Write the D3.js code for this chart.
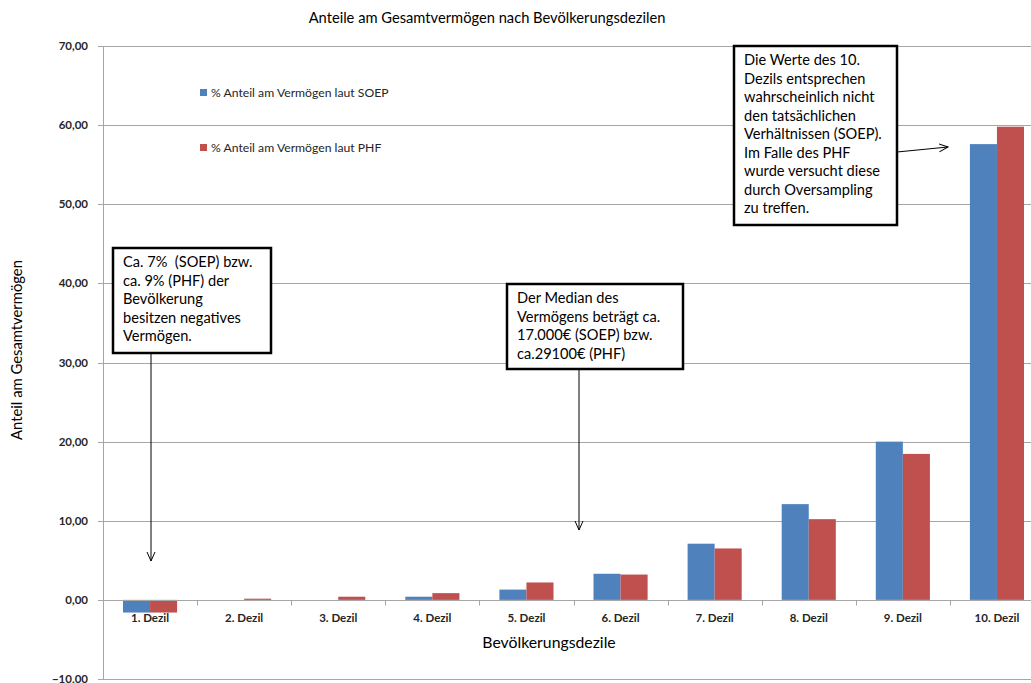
<!DOCTYPE html>
<html>
<head>
<meta charset="utf-8">
<script src="https://cdn.jsdelivr.net/npm/d3@7"></script>
<style>
  body { margin: 0; background: #fff; }
  svg { display: block; font-family: Lato, "Open Sans", sans-serif; }
</style>
</head>
<body>
<div id="chart"></div>
<script>
var w = 1031,
	h = 683;

// data
var categories = ["1. Dezil", "2. Dezil", "3. Dezil", "4. Dezil", "5. Dezil",
	"6. Dezil", "7. Dezil", "8. Dezil", "9. Dezil", "10. Dezil"];
var soep = [-1.6, 0.0, 0.0, 0.4, 1.3, 3.3, 7.1, 12.1, 20.0, 57.6];
var phf = [-1.6, 0.15, 0.4, 0.85, 2.2, 3.2, 6.5, 10.2, 18.45, 59.8];
var seriesNames = ["% Anteil am Vermögen laut SOEP", "% Anteil am Vermögen laut PHF"];
var yTicks = [-10, 0, 10, 20, 30, 40, 50, 60, 70];

var colorscale = d3.scaleOrdinal().range(["#4F81BD", "#C0504D"]);

var svg = d3.select("#chart").append("svg")
	.attr("width", w)
	.attr("height", h);

var x0 = d3.scaleBand().domain(categories).range([103, 1044])
	.paddingInner(0.425).paddingOuter(0.2125);
var step = x0.step();
var x1 = d3.scaleBand().domain([0, 1]).range([0, x0.bandwidth()]);
var y = d3.scaleLinear().domain([-10, 70]).range([679, 46]);

// gridlines
svg.append("g").selectAll("line")
	.data(yTicks)
	.enter().append("line")
	.attr("x1", 98).attr("x2", 1044)
	.attr("y1", function(d) { return Math.round(y(d)) + 0.5; })
	.attr("y2", function(d) { return Math.round(y(d)) + 0.5; })
	.attr("stroke", "#a6a6a6")
	.attr("stroke-width", 1);

// y axis line
svg.append("line")
	.attr("x1", 103.5).attr("x2", 103.5)
	.attr("y1", y(70)).attr("y2", y(-10))
	.attr("stroke", "#a6a6a6");

// y labels
svg.append("g").selectAll("text")
	.data(yTicks)
	.enter().append("text")
	.attr("x", 88)
	.attr("y", function(d) { return y(d) + 4; })
	.attr("text-anchor", "end")
	.attr("font-size", "11.5px")
	.attr("font-weight", "bold")
	.attr("fill", "#262626")
	.text(function(d) { return d3.format(".2f")(d).replace(".", ","); });

// bars
var rows = categories.map(function(c, i) { return {cat: c, vals: [soep[i], phf[i]]}; });
var groups = svg.append("g").selectAll("g")
	.data(rows)
	.enter().append("g")
	.attr("transform", function(d) { return "translate(" + x0(d.cat) + ",0)"; });
groups.selectAll("rect")
	.data(function(d) { return d.vals; })
	.enter().append("rect")
	.attr("x", function(d, i) { return x1(i); })
	.attr("y", function(d) { return y(Math.max(0, d)); })
	.attr("width", x1.bandwidth())
	.attr("height", function(d) { return Math.abs(y(d) - y(0)); })
	.attr("fill", function(d, i) { return colorscale(i); });

// x axis line + ticks
var zeroY = Math.round(y(0)) + 0.5;
svg.append("line")
	.attr("x1", 103).attr("x2", 1044)
	.attr("y1", zeroY).attr("y2", zeroY)
	.attr("stroke", "#a6a6a6");
svg.append("g").selectAll("line")
	.data(d3.range(1, categories.length))
	.enter().append("line")
	.attr("x1", function(i) { return Math.round(103 + i * step) + 0.5; })
	.attr("x2", function(i) { return Math.round(103 + i * step) + 0.5; })
	.attr("y1", zeroY).attr("y2", zeroY + 5)
	.attr("stroke", "#a6a6a6");

// x labels
svg.append("g").selectAll("text")
	.data(categories)
	.enter().append("text")
	.attr("x", function(d) { return x0(d) + x0.bandwidth() / 2; })
	.attr("y", 622)
	.attr("text-anchor", "middle")
	.attr("font-size", "11.5px")
	.attr("font-weight", "bold")
	.attr("fill", "#262626")
	.text(function(d) { return d; });

// titles
svg.append("text")
	.attr("x", 487).attr("y", 23)
	.attr("text-anchor", "middle")
	.attr("font-size", "14.7px")
	.attr("fill", "#000")
	.text("Anteile am Gesamtvermögen nach Bevölkerungsdezilen");

svg.append("text")
	.attr("x", 549).attr("y", 648)
	.attr("text-anchor", "middle")
	.attr("font-size", "15.8px")
	.attr("fill", "#000")
	.text("Bevölkerungsdezile");

svg.append("text")
	.attr("transform", "translate(22,350) rotate(-90)")
	.attr("text-anchor", "middle")
	.attr("font-size", "14.8px")
	.attr("fill", "#000")
	.text("Anteil am Gesamtvermögen");

// legend
var legend = svg.append("g").attr("class", "legend");
legend.selectAll("rect")
	.data(seriesNames)
	.enter().append("rect")
	.attr("x", 200)
	.attr("y", function(d, i) { return 89 + i * 55; })
	.attr("width", 7).attr("height", 7)
	.style("fill", function(d, i) { return colorscale(i); });
legend.selectAll("text")
	.data(seriesNames)
	.enter().append("text")
	.attr("x", 211)
	.attr("y", function(d, i) { return 97 + i * 55; })
	.attr("font-size", "12.2px")
	.attr("fill", "#262626")
	.text(function(d) { return d; });

// annotations
var defs = svg.append("defs");
defs.append("marker")
	.attr("id", "arrow")
	.attr("viewBox", "0 0 10 10")
	.attr("refX", 9).attr("refY", 5)
	.attr("markerWidth", 10).attr("markerHeight", 10)
	.attr("markerUnits", "userSpaceOnUse")
	.attr("orient", "auto")
	.append("path")
	.attr("d", "M0,1 L9,5 L0,9")
	.attr("fill", "none")
	.attr("stroke", "#000")
	.attr("stroke-width", 1);

var notes = [
	{x: 113, y: 248, w: 158, h: 105, lines: ["Ca. 7%  (SOEP) bzw.", "ca. 9% (PHF) der", "Bevölkerung", "besitzen negatives", "Vermögen."],
	 ax1: 151, ay1: 353, ax2: 151, ay2: 561},
	{x: 507, y: 284, w: 176, h: 85, lines: ["Der Median des", "Vermögens beträgt ca.", "17.000€ (SOEP) bzw.", "ca.29100€ (PHF)"],
	 ax1: 579, ay1: 369, ax2: 579, ay2: 530},
	{x: 734, y: 46, w: 163, h: 179, lines: ["Die Werte des 10.", "Dezils entsprechen", "wahrscheinlich nicht", "den tatsächlichen", "Verhältnissen (SOEP).", "Im Falle des PHF", "wurde versucht diese", "durch Oversampling", "zu treffen."],
	 ax1: 897, ay1: 152, ax2: 948, ay2: 147}
];

notes.forEach(function(n) {
	svg.append("line")
		.attr("x1", n.ax1).attr("y1", n.ay1)
		.attr("x2", n.ax2).attr("y2", n.ay2)
		.attr("stroke", "#000").attr("stroke-width", 1)
		.attr("marker-end", "url(#arrow)");
	svg.append("rect")
		.attr("x", n.x).attr("y", n.y)
		.attr("width", n.w).attr("height", n.h)
		.attr("fill", "#fff")
		.attr("stroke", "#000").attr("stroke-width", 2.5);
	svg.append("g").selectAll("text")
		.data(n.lines)
		.enter().append("text")
		.attr("x", n.x + 10)
		.attr("y", function(d, i) { return n.y + 19 + i * 18.5; })
		.attr("font-size", "14.6px")
		.attr("fill", "#000")
		.style("white-space", "pre")
		.text(function(d) { return d; });
});
</script>
</body>
</html>
